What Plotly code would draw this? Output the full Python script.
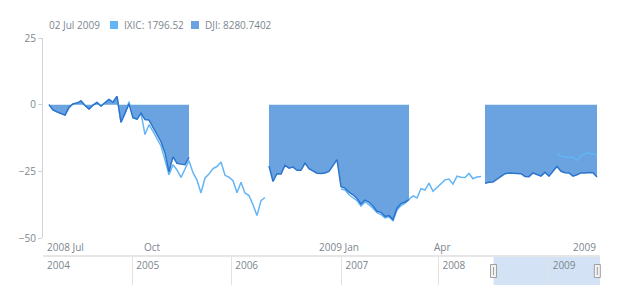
import plotly.graph_objects as go

# ---------------- data (percent change, ordinal session index) ----------------
n_sessions = 138

dji_a_start = 0
dji_a = [0, -2.0, -2.7, -3.3, -3.9, -1.0, 0.3, 0.6, 1.4, -0.3, -1.6, -0.2, 0.8, -0.5,
         0.9, 2.0, 0.9, 3.1, -6.6, -3.3, 0.3, -4.9, -5.4, -3.2, -5.6, -5.8, -8.5, -10.9,
         -13.9, -18.1, -25.2, -19.6, -22.0, -22.3, -22.5, -19.8]
dji_b_start = 55
dji_b = [-23.0, -28.8, -25.9, -26.0, -22.8, -23.8, -23.4, -24.6, -24.6, -21.9, -24.0,
         -25.0, -25.7, -25.8, -25.6, -25.0, -22.6, -20.6, -30.8, -31.3, -32.8, -33.8,
         -35.2, -37.3, -35.8, -36.6, -38.0, -40.0, -40.4, -41.9, -41.6, -43.1, -38.8,
         -37.1, -36.5, -35.6]
dji_c_start = 109
dji_c = [-29.5, -29.1, -29.0, -28.1, -26.9, -25.9, -25.6, -25.7, -25.9, -25.9, -26.9,
         -27.0, -25.6, -26.2, -26.8, -25.4, -26.8, -25.0, -23.2, -25.0, -25.5, -25.6,
         -26.8, -26.3, -25.6, -25.6, -25.4, -25.5, -27.1]

ixic_a_start = 0
ixic_a = [0, -2.0, -2.7, -3.3, -3.9, -1.0, 0.3, 0.6, 1.4, -0.3, -1.6, -0.2, 0.8, -0.5,
          0.9, 2.0, 0.9, 3.1, -6.6, -3.3, 1.1, -4.9, -5.4, -3.2, -11.2, -7.5, -10.0,
          -12.5, -15.5, -20.8, -26.3, -22.5, -24.5, -27.3, -24.0, -21.0, -25.5, -28.3,
          -33.1, -27.5, -26.0, -24.0, -23.2, -21.5, -26.5, -27.2, -28.5, -33.0, -29.1,
          -33.1, -34.1, -37.5, -41.6, -36.0, -34.8]
ixic_b_start = 73
ixic_b = [-31.6, -32.0, -33.8, -34.8, -36.0, -38.0, -36.5, -37.5, -38.8, -40.5, -41.2,
          -42.5, -42.0, -43.5, -39.5, -37.8, -37.0, -35.5, -34.2, -35.0, -31.5, -32.0,
          -29.4, -32.5, -31.0, -29.5, -28.2, -27.9, -29.8, -26.8, -27.2, -27.3, -25.8,
          -27.8, -27.1, -26.9]
ixic_c_start = 127
ixic_c = [-18.3, -19.3, -19.5, -19.8, -19.6, -20.8, -19.2, -18.4, -18.1, -18.6, -18.9]

x_tick_vals = [-0.5, 23.75, 67.5, 96.25]
x_tick_text = ["2008 Jul", "Oct", "2009 Jan", "Apr"]
x_last_label = "2009"
x_last_session = 137.25

y_tick_vals = [25, 0, -25, -50]

legend_date = "02 Jul 2009"
ixic_label = "IXIC: 1796.52"
dji_label = "DJI: 8280.7402"

scroller_years = ["2004", "2005", "2006", "2007", "2008", "2009"]
scroller_year_pos = [0, 47, 99, 157, 208, 266]
scroller_total = 293
scroller_sel = [237, 291.6]

# ---------------- build series ----------------
def build(segments):
    arr = [None] * n_sessions
    for start, vals in segments:
        for i, v in enumerate(vals):
            arr[start + i] = v
    return arr

sessions = list(range(n_sessions))
dji_segments = [(dji_a_start, dji_a), (dji_b_start, dji_b), (dji_c_start, dji_c)]
dji = build(dji_segments)
ixic = build([(ixic_a_start, ixic_a), (ixic_b_start, ixic_b), (ixic_c_start, ixic_c)])

IXIC_COLOR = "#64b5f6"
DJI_FILL = "#6aa3e0"
DJI_LINE = "#2c74cc"
TXT = "#7c868e"
FONT = "Open Sans"

fig = go.Figure()
# DJI area fill, one closed region per data segment
for start, vals in dji_segments:
    xs = list(range(start, start + len(vals)))
    fig.add_trace(go.Scatter(x=xs, y=vals, mode="lines", fill="tozeroy",
                             fillcolor=DJI_FILL, line=dict(width=0, color=DJI_FILL),
                             hoverinfo="skip", showlegend=False))
fig.add_trace(go.Scatter(x=sessions, y=ixic, mode="lines",
                         line=dict(width=1.5, color=IXIC_COLOR),
                         connectgaps=False, showlegend=False, name="IXIC"))
fig.add_trace(go.Scatter(x=sessions, y=dji, mode="lines",
                         line=dict(width=1.5, color=DJI_LINE),
                         connectgaps=False, showlegend=False, name="DJI"))
# invisible trace to activate scroller axes
fig.add_trace(go.Scatter(x=[0, scroller_total], y=[0, 1], xaxis="x2", yaxis="y2",
                         mode="lines", line=dict(width=0), hoverinfo="skip",
                         showlegend=False))

L, R, T, B = 43, 20, 38, 15
W, H = 620, 300
pw, ph = W - L - R, H - T - B
def px_x(p):
    return (p - L) / pw
def px_y(p):
    return (H - B - p) / ph

main_bottom = px_y(238)
scroll_top = px_y(257)

fig.update_layout(
    width=W, height=H,
    margin=dict(l=L, r=R, t=T, b=B, autoexpand=False),
    paper_bgcolor="white", plot_bgcolor="white",
    font=dict(family=FONT, size=10, color=TXT),
    xaxis=dict(domain=[0, 1], anchor="y", range=[-1.5, 137.75], automargin=False,
               tickvals=x_tick_vals, ticktext=x_tick_text,
               ticklabelposition="outside right", ticks="", ticklabelstandoff=2,
               showgrid=False, zeroline=False, showline=False,
               tickfont=dict(size=10, color=TXT)),
    yaxis=dict(domain=[main_bottom, 1], anchor="x", range=[-50, 25], automargin=False,
               tickvals=y_tick_vals, ticks="outside", ticklen=4,
               tickcolor="#cfd4d8", showline=True, linecolor="#cfd4d8",
               linewidth=1, showgrid=False, zeroline=False,
               tickfont=dict(size=10, color=TXT)),
    xaxis2=dict(domain=[0, 1], anchor="y2", range=[0, scroller_total], automargin=False,
                side="top", tickvals=scroller_year_pos, ticktext=scroller_years,
                ticklabelposition="inside right", ticks="",
                ticklabelstandoff=1, ticklabelshift=3,
                showgrid=True, gridcolor="#e2e2e2", gridwidth=1,
                showline=True, linecolor="#e6e6e6", linewidth=2,
                zeroline=False, tickfont=dict(size=10, color=TXT)),
    yaxis2=dict(domain=[0, scroll_top], anchor="x2", range=[0, 1], visible=False),
    hovermode=False,
)

shapes = []
# scroller selection
shapes.append(dict(type="rect", xref="x2", yref="y2", x0=scroller_sel[0],
                   x1=scroller_total, y0=0, y1=1, fillcolor="#d3e3f5",
                   line=dict(width=0), layer="below"))
for hx in scroller_sel:
    fx = hx / scroller_total
    shapes.append(dict(type="rect", xref="paper", yref="y2", xsizemode="pixel",
                       ysizemode="pixel", xanchor=fx, yanchor=0.5,
                       x0=-3, x1=3, y0=-6.5, y1=6.5, fillcolor="#f2f2f2",
                       line=dict(color="#a0a0a0", width=1)))
    shapes.append(dict(type="line", xref="paper", yref="y2", xsizemode="pixel",
                       ysizemode="pixel", xanchor=fx, yanchor=0.5,
                       x0=0, x1=0, y0=-4, y1=4,
                       line=dict(color="#a0a0a0", width=1)))
# legend squares
for sx, col in [(110, IXIC_COLOR), (191, DJI_FILL)]:
    shapes.append(dict(type="rect", xref="paper", yref="paper",
                       x0=px_x(sx), x1=px_x(sx + 8), y0=px_y(29), y1=px_y(21),
                       fillcolor=col, line=dict(width=0)))
fig.update_layout(shapes=shapes)

ann = [
    dict(text=legend_date, x=px_x(47), y=px_y(25), xref="paper", yref="paper",
         xanchor="left", yanchor="middle", showarrow=False),
    dict(text=ixic_label, x=px_x(122), y=px_y(25), xref="paper", yref="paper",
         xanchor="left", yanchor="middle", showarrow=False),
    dict(text=dji_label, x=px_x(203), y=px_y(25), xref="paper", yref="paper",
         xanchor="left", yanchor="middle", showarrow=False),
    dict(text=x_last_label, x=x_last_session, y=px_y(247), xref="x", yref="paper",
         xanchor="right", yanchor="middle", showarrow=False),
]
for a in ann:
    a["font"] = dict(family=FONT, size=10, color=TXT)
fig.update_layout(annotations=ann)

fig.write_html("out.html")
